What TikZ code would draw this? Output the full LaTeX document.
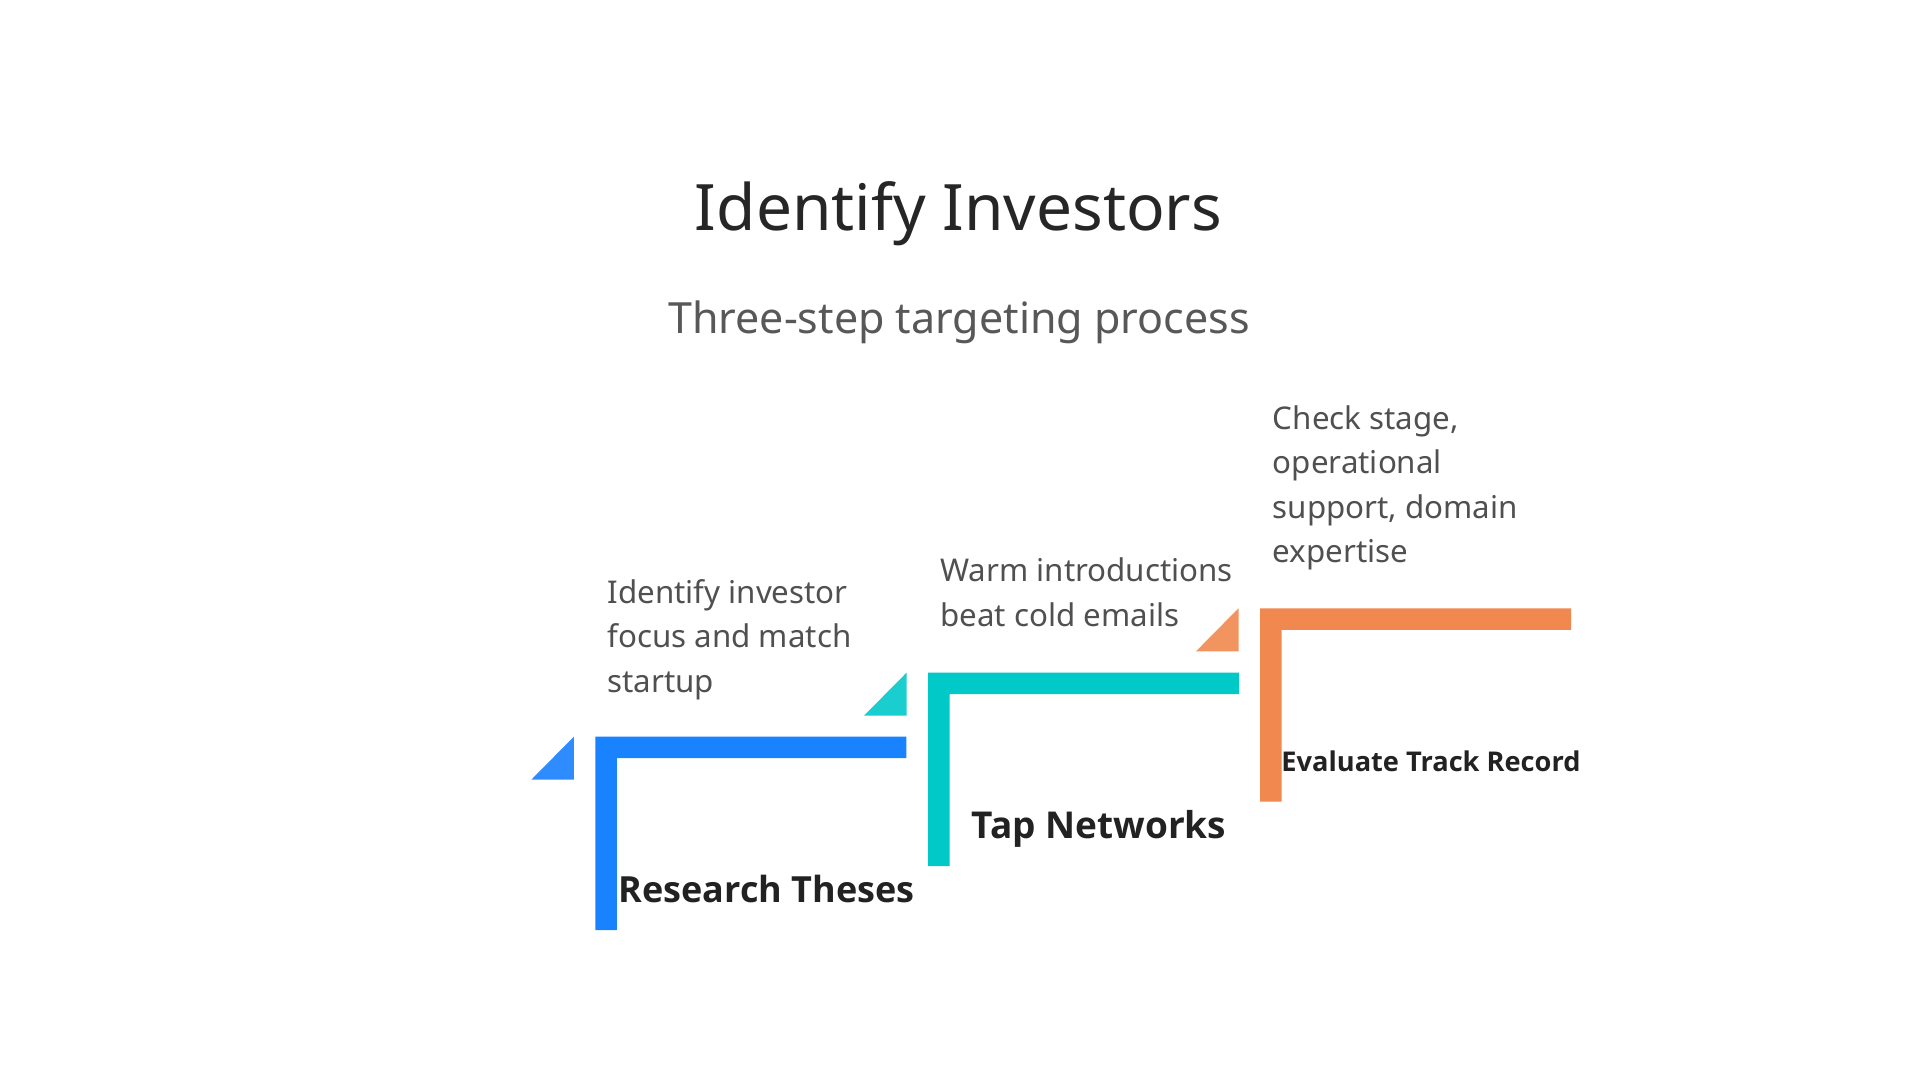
\documentclass[tikz,border=0pt]{standalone}
\usepackage{fontspec}
\setmainfont{Noto Sans}
\newfontfamily\lblfont{Open Sans}
\definecolor{bluebar}{RGB}{24,130,255}
\definecolor{bluetri}{RGB}{46,140,255}
\definecolor{tealbar}{RGB}{0,201,200}
\definecolor{tealtri}{RGB}{26,206,208}
\definecolor{orangebar}{RGB}{240,136,80}
\definecolor{orangetri}{RGB}{242,148,96}
\definecolor{titlecol}{RGB}{38,38,38}
\definecolor{subcol}{RGB}{88,88,88}
\definecolor{desccol}{RGB}{80,80,80}
\definecolor{lblcol}{RGB}{34,34,34}
\newcommand\stepshape[4]{%
  \fill[#3] (#1,#2) -- ++(311,0) -- ++(0,21.5) -- ++(-289.5,0) -- ++(0,171.8) -- ++(-21.5,0) -- cycle;
  \fill[#4] (#1-21.5,#2) -- ++(0,43) -- ++(-42.5,0) -- cycle;
}
\begin{document}
\begin{tikzpicture}[x=1pt,y=-1pt,
  titlestyle/.style={anchor=base, inner sep=0pt, text=titlecol, font=\fontsize{64}{77}\selectfont},
  substyle/.style={anchor=base, inner sep=0pt, text=subcol, font=\fontsize{43}{51}\selectfont},
  desc/.style={anchor=base west, inner sep=0pt, text=desccol, font=\fontsize{31.3}{44.5}\selectfont},
  lbl/.style={anchor=base, inner sep=0pt, text=lblcol, font=\lblfont\bfseries\fontsize{36}{43}\selectfont},
  lblbig/.style={lbl, font=\lblfont\bfseries\fontsize{37}{44}\selectfont},
  lblsmall/.style={lbl, font=\lblfont\bfseries\fontsize{27.2}{32}\selectfont}]
\useasboundingbox[fill=white] (0,0) rectangle (1920,1080);

\node[titlestyle] (title) at (958.5,230) {Identify Investors};
\node[substyle] (sub) at (959,333) {Three-step targeting process};

\stepshape{595.3}{736.7}{bluebar}{bluetri}
\stepshape{928}{672.7}{tealbar}{tealtri}
\stepshape{1260}{608.3}{orangebar}{orangetri}

\node[lbl] (l1) at (766.5,902.7) {Research Theses};
\node[lblbig] (l2) at (1099,838.3) {Tap Networks};
\node[lblsmall] (l3) at (1431,771.7) {Evaluate Track Record};

\node[desc] (d1) at (607.3,603.3) {\vtop{\hbox{Identify investor}\hbox{focus and match}\hbox{startup}}};
\node[desc] (d2) at (940,581.7) {\vtop{\hbox{Warm introductions}\hbox{beat cold emails}}};
\node[desc] (d3) at (1272.7,429.3) {\vtop{\hbox{Check stage,}\hbox{operational}\hbox{support, domain}\hbox{expertise}}};
\end{tikzpicture}
\end{document}
